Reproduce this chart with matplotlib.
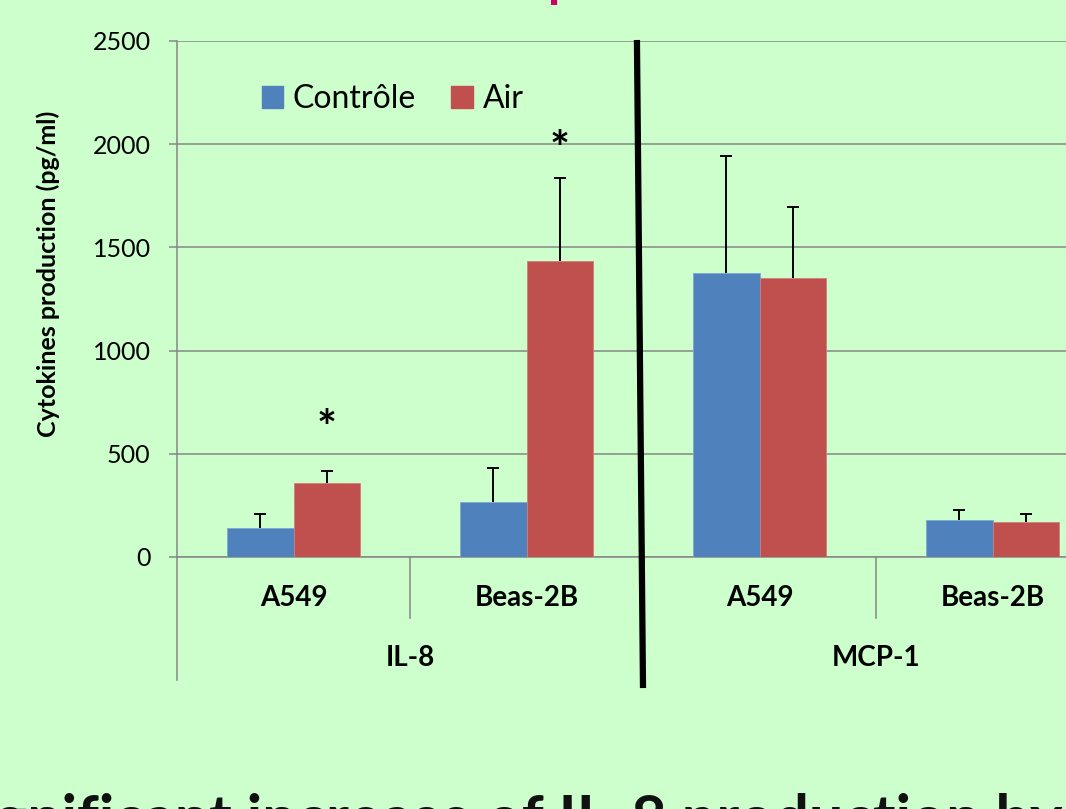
import numpy as np
import matplotlib.pyplot as plt
from matplotlib.patches import Patch

# values
cells = ['A549', 'Beas-2B', 'A549', 'Beas-2B']
cytokines = ['IL-8', 'MCP-1']
controle = [140, 265, 1377, 181]
controle_err = [67, 165, 565, 48]
air = [360, 1434, 1350, 168]
air_err = [55, 400, 346, 42]
star_pos = [0, 1]
star_y = [615, 1967]

bg = '#CCFFCC'
blue, red, grey = '#4F81BD', '#C0504D', '#868686'
plt.rcParams['font.family'] = ['Lato', 'DejaVu Sans']

fig = plt.figure(figsize=(10.66, 8.09), dpi=100, facecolor=bg)
ax = fig.add_axes([177 / 1066, 252 / 809, 932 / 1066, 516 / 809])
ax.set_facecolor(bg)

x = np.arange(len(cells))
w = 0.285
for off, vals, errs, col, edge in [(-w / 2, controle, controle_err, blue, '#7FA6D6'),
                                   (w / 2, air, air_err, red, '#D47B78')]:
    ax.bar(x + off, vals, w, color=col, edgecolor=edge, linewidth=0.6, zorder=3)
    tops = np.array(vals) + np.array(errs)
    # upper error bars only, cap on top
    ax.vlines(x + off, vals, tops, color='black', lw=1.4, zorder=4)
    ax.plot(x + off, tops, ls='none', marker='_', ms=9, mew=1.4, color='black', zorder=4)

for i, yv in zip(star_pos, star_y):
    ax.text(i + w / 2, yv, '*', ha='center', va='center', fontsize=34, fontweight='bold')

ax.set_xlim(-0.5, 3.5)
ax.set_ylim(0, 2500)
ax.set_yticks(np.arange(0, 2501, 500))
ax.yaxis.grid(True, color=grey, lw=1.1, zorder=0)
ax.set_axisbelow(True)
ax.tick_params(axis='y', direction='out', length=6, width=1.1, color=grey, pad=13, labelsize=18)
ax.set_xticks([])
for s in ['top', 'right']:
    ax.spines[s].set_visible(False)
for s in ['left', 'bottom']:
    ax.spines[s].set_color(grey)
    ax.spines[s].set_linewidth(1.1)

fig.text(48 / 1066, 1 - 274 / 809, 'Cytokines production (pg/ml)', rotation=90, fontsize=18,
         fontweight='bold', ha='center', va='center')

# two-level category axis below the bars
for i, c in enumerate(cells):
    ax.text(i, -199, c, ha='center', va='center', fontsize=20, fontweight='bold')
for j, c in enumerate(cytokines):
    ax.text(2 * j + 0.5, -489, c, ha='center', va='center', fontsize=20, fontweight='bold')
for xs in [0.5, 2.5]:
    ax.plot([xs, xs], [0, -296], color=grey, lw=1.1, clip_on=False)
ax.plot([-0.5, -0.5], [0, -596], color=grey, lw=1.1, clip_on=False)

# thick separator between IL-8 and MCP-1
ax.plot([1.474, 1.5], [2505, -635], color='black', lw=4.5, clip_on=False, zorder=5, solid_capstyle='butt')

ax.legend(handles=[Patch(color=blue, label='Contrôle'), Patch(color=red, label='Air')],
          loc='upper left', bbox_to_anchor=(0.06, 0.972), ncol=2, frameon=False, fontsize=23,
          handlelength=0.68, handleheight=0.68, handletextpad=0.3, columnspacing=1.1)

fig.text(562 / 1066, 1 + 3 / 809, 'p', color='#CC0066', fontsize=36, fontweight='bold',
         ha='center', va='baseline')
fig.text(1062 / 1066, -29 / 809, 'Significant increase of IL-8 production by', fontsize=44,
         fontweight='bold', ha='right', va='baseline', color='#111111')

fig.savefig('out.png', dpi=100, facecolor=bg)
